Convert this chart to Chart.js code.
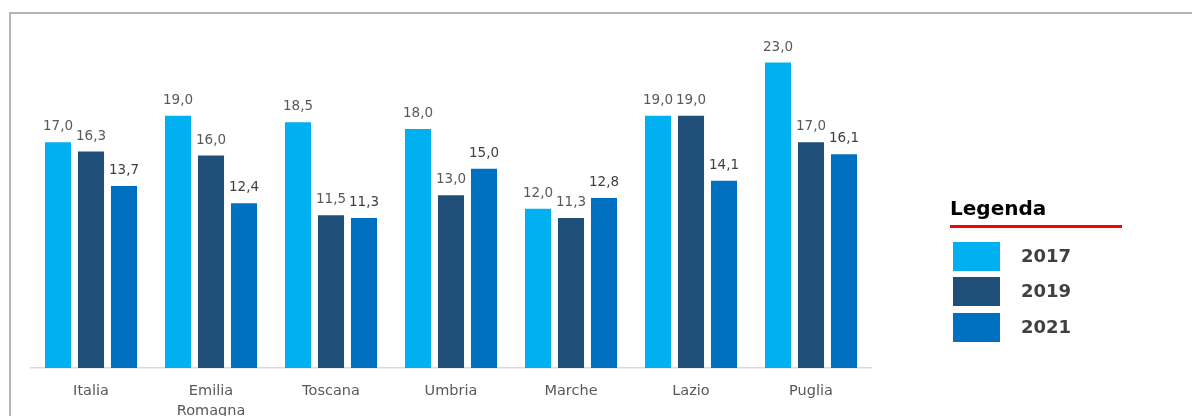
<!DOCTYPE html>
<html>
<head>
<meta charset="utf-8">
<title>Confronto regionale 2017-2021</title>
<script src="https://cdn.jsdelivr.net/npm/chart.js@4.4.1/dist/chart.umd.min.js"></script>
<style>
  html, body { margin: 0; padding: 0; width: 1192px; height: 416px; overflow: hidden; background: #fff; }
  body { position: relative; font-family: "DejaVu Sans", sans-serif; }
  #frame { position: absolute; left: 9px; top: 12px; width: 1300px; height: 500px; border: 2px solid #b4b4b4; }
  #wrap { position: absolute; left: 0; top: 0; width: 1192px; height: 440px; }
  #legend { position: absolute; left: 950px; top: 196px; }
  #legend .title { width: 172px; font-weight: bold; font-size: 20px; line-height: 24px; color: #000;
                   padding-bottom: 5px; border-bottom: 3px solid #ff0000; }
  #legend .item { height: 29px; margin-left: 3px; margin-top: 6.5px; display: flex; align-items: center; }
  #legend .item:nth-child(2) { margin-top: 13.5px; }
  #legend .swatch { width: 47px; height: 29px; margin-right: 21px; }
  #legend .label { font-weight: bold; font-size: 18px; color: #404040; margin-top: -2px; }
</style>
</head>
<body>
<div id="frame"></div>
<div id="wrap"><canvas id="myChart" width="1192" height="440"></canvas></div>
<div id="legend"><div class="title">Legenda</div></div>
<script>
const regions = ['Italia', ['Emilia', 'Romagna'], 'Toscana', 'Umbria', 'Marche', 'Lazio', 'Puglia'];
const years = ['2017', '2019', '2021'];
const values2017 = [17.0, 19.0, 18.5, 18.0, 12.0, 19.0, 23.0];
const values2019 = [16.3, 16.0, 11.5, 13.0, 11.3, 19.0, 17.0];
const values2021 = [13.7, 12.4, 11.3, 15.0, 12.8, 14.1, 16.1];
const barColors = ['#00b0f0', '#1f4e79', '#0070c0'];
const labelColors = ['#595959', '#595959', '#404040'];

const series = [values2017, values2019, values2021];

// numbers above each bar, italian decimal comma
const valueLabels = {
    id: 'valueLabels',
    afterDatasetsDraw(chart) {
        const ctx = chart.ctx;
        ctx.save();
        ctx.font = '13.5px "DejaVu Sans"';
        ctx.textAlign = 'center';
        ctx.textBaseline = 'alphabetic';
        chart.data.datasets.forEach((ds, i) => {
            ctx.fillStyle = labelColors[i];
            chart.getDatasetMeta(i).data.forEach((bar, j) => {
                ctx.fillText(ds.data[j].toFixed(1).replace('.', ','), bar.x, bar.y - 12);
            });
        });
        ctx.restore();
    }
};

const myChart = new Chart(
    document.getElementById('myChart'),
    {
        type: 'bar',
        data: {
            labels: regions,
            datasets: years.map((y, i) => ({
                label: y,
                data: series[i],
                backgroundColor: barColors[i],
                categoryPercentage: 0.825,
                barPercentage: 0.79
            }))
        },
        options: {
            responsive: false,
            animation: false,
            layout: { padding: { left: 31, right: 321, top: 36, bottom: 5.4 } },
            plugins: {
                legend: { display: false },
                tooltip: { enabled: false }
            },
            scales: {
                y: { display: false, min: 0, max: 25 },
                x: {
                    grid: { display: false, drawTicks: false },
                    border: { color: '#d9d9d9', width: 1.5 },
                    ticks: {
                        color: '#595959',
                        padding: 13,
                        font: { family: 'DejaVu Sans', size: 14.5, lineHeight: 1.4 }
                    }
                }
            }
        },
        plugins: [valueLabels]
    });

// legend on the right, built from the same series
const legendBox = document.getElementById('legend');
years.forEach((y, i) => {
    const item = document.createElement('div');
    item.className = 'item';
    item.innerHTML = `<div class="swatch" style="background:${barColors[i]}"></div><div class="label">${y}</div>`;
    legendBox.appendChild(item);
});
</script>
</body>
</html>
